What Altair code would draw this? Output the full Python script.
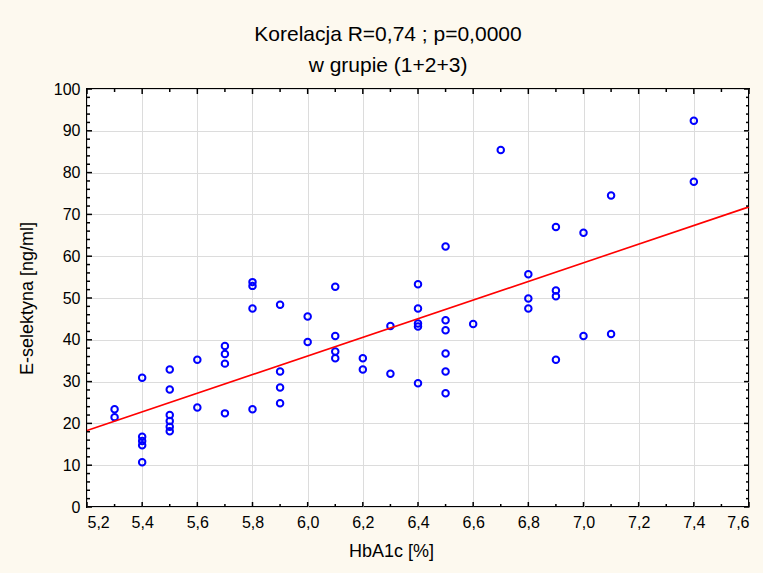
import altair as alt
import pandas as pd

# ---- data ----
hba1c = [5.3, 5.3,
         5.4, 5.4, 5.4, 5.4, 5.4,
         5.5, 5.5, 5.5, 5.5, 5.5, 5.5,
         5.6, 5.6,
         5.7, 5.7, 5.7, 5.7,
         5.8, 5.8, 5.8, 5.8,
         5.9, 5.9, 5.9, 5.9,
         6.0, 6.0,
         6.1, 6.1, 6.1, 6.1,
         6.2, 6.2,
         6.3, 6.3,
         6.4, 6.4, 6.4, 6.4, 6.4,
         6.5, 6.5, 6.5, 6.5, 6.5, 6.5,
         6.6,
         6.7,
         6.8, 6.8, 6.8,
         6.9, 6.9, 6.9, 6.9,
         7.0, 7.0,
         7.1, 7.1,
         7.4, 7.4]
eselektyna = [23.4, 21.5,
              30.9, 16.8, 15.8, 14.8, 10.7,
              32.9, 28.1, 22.0, 20.6, 19.2, 18.1,
              35.2, 23.8,
              38.5, 36.6, 34.3, 22.4,
              53.8, 52.9, 47.5, 23.4,
              48.4, 32.4, 28.6, 24.8,
              45.6, 39.5,
              52.7, 40.9, 37.2, 35.6,
              35.6, 32.9,
              43.3, 31.9,
              53.3, 47.5, 43.9, 43.2, 29.6,
              62.3, 44.7, 42.3, 36.7, 32.4, 27.2,
              43.8,
              85.4,
              55.7, 49.9, 47.5,
              67.0, 51.8, 50.4, 35.2,
              65.6, 40.9,
              74.5, 41.4,
              92.4, 77.8]

fit_x = [5.2, 7.6]
fit_y = [18.3, 71.8]

x_major = [5.2, 5.4, 5.6, 5.8, 6.0, 6.2, 6.4, 6.6, 6.8, 7.0, 7.2, 7.4, 7.6]
x_minor = [5.3, 5.5, 5.7, 5.9, 6.1, 6.3, 6.5, 6.7, 6.9, 7.1, 7.3, 7.5]
y_major = [0, 10, 20, 30, 40, 50, 60, 70, 80, 90, 100]
y_minor = [v for v in range(2, 100, 2) if v % 10 != 0]

title_lines = ["Korelacja R=0,74 ; p=0,0000", "w grupie (1+2+3)"]
x_title = "HbA1c [%]"
y_title = "E-selektyna [ng/ml]"

W, H = 662, 418
FONT = "Liberation Sans"

pts = pd.DataFrame({"x": hba1c, "y": eselektyna})
fit = pd.DataFrame({"x": fit_x, "y": fit_y})

xscale = alt.Scale(domain=[5.2, 7.6], nice=False, zero=False)
yscale = alt.Scale(domain=[0, 100], nice=False, zero=True)

x_axis = alt.Axis(
    values=x_major, title=x_title, grid=True,
    labelExpr="replace(format(datum.value, '.1f'), '.', ',')",
    labelPadding=7, titleX=304, titleY=49, titleBaseline="alphabetic",
)
y_axis = alt.Axis(
    values=y_major, title=y_title, grid=True, format="d",
    labelPadding=7, titleX=-55, titleY=209, titleBaseline="alphabetic",
)

points = alt.Chart(pts).mark_point(
    shape="circle", filled=False, color="#0000FF", size=42, strokeWidth=2, opacity=1
).encode(
    x=alt.X("x:Q", scale=xscale, axis=x_axis),
    y=alt.Y("y:Q", scale=yscale, axis=y_axis),
)

line = alt.Chart(fit).mark_line(color="#FF0000", strokeWidth=1.6).encode(
    x=alt.X("x:Q", scale=xscale), y=alt.Y("y:Q", scale=yscale)
)


def xticks(vals, length):
    df = pd.DataFrame({"v": vals})
    bottom = alt.Chart(df).mark_rule(color="black", strokeWidth=1.5).encode(
        x=alt.X("v:Q", scale=xscale), y=alt.value(H), y2=alt.value(H - length))
    top = alt.Chart(df).mark_rule(color="black", strokeWidth=1.5).encode(
        x=alt.X("v:Q", scale=xscale), y=alt.value(0), y2=alt.value(length))
    return [bottom, top]


def yticks(vals, length):
    df = pd.DataFrame({"v": vals})
    left = alt.Chart(df).mark_rule(color="black", strokeWidth=1.5).encode(
        y=alt.Y("v:Q", scale=yscale), x=alt.value(0), x2=alt.value(length))
    right = alt.Chart(df).mark_rule(color="black", strokeWidth=1.5).encode(
        y=alt.Y("v:Q", scale=yscale), x=alt.value(W), x2=alt.value(W - length))
    return [left, right]


layers = [points, line] + xticks(x_major, 5) + xticks(x_minor, 3) + yticks(y_major, 5) + yticks(y_minor, 3)

chart = alt.layer(*layers).properties(
    width=W, height=H,
    title=alt.TitleParams(
        text=title_lines, font=FONT, fontSize=21, fontWeight="normal", color="black",
        anchor="middle", dx=-30, lineHeight=31, offset=5,
    ),
    background="#FDF9EF",
    padding={"left": 87, "top": 89, "right": 14, "bottom": 66},
    autosize=alt.AutoSizeParams(type="none"),
).configure_view(
    fill="white", stroke="black", strokeWidth=2
).configure_axis(
    domain=False, ticks=False, gridColor="#DCDCDC", gridWidth=1,
    labelFont=FONT, labelFontSize=16, labelColor="black",
    titleFont=FONT, titleFontSize=18, titleFontWeight="normal", titleColor="black",
)

chart.save("out.html", embed_options={"renderer": "svg", "actions": False})
